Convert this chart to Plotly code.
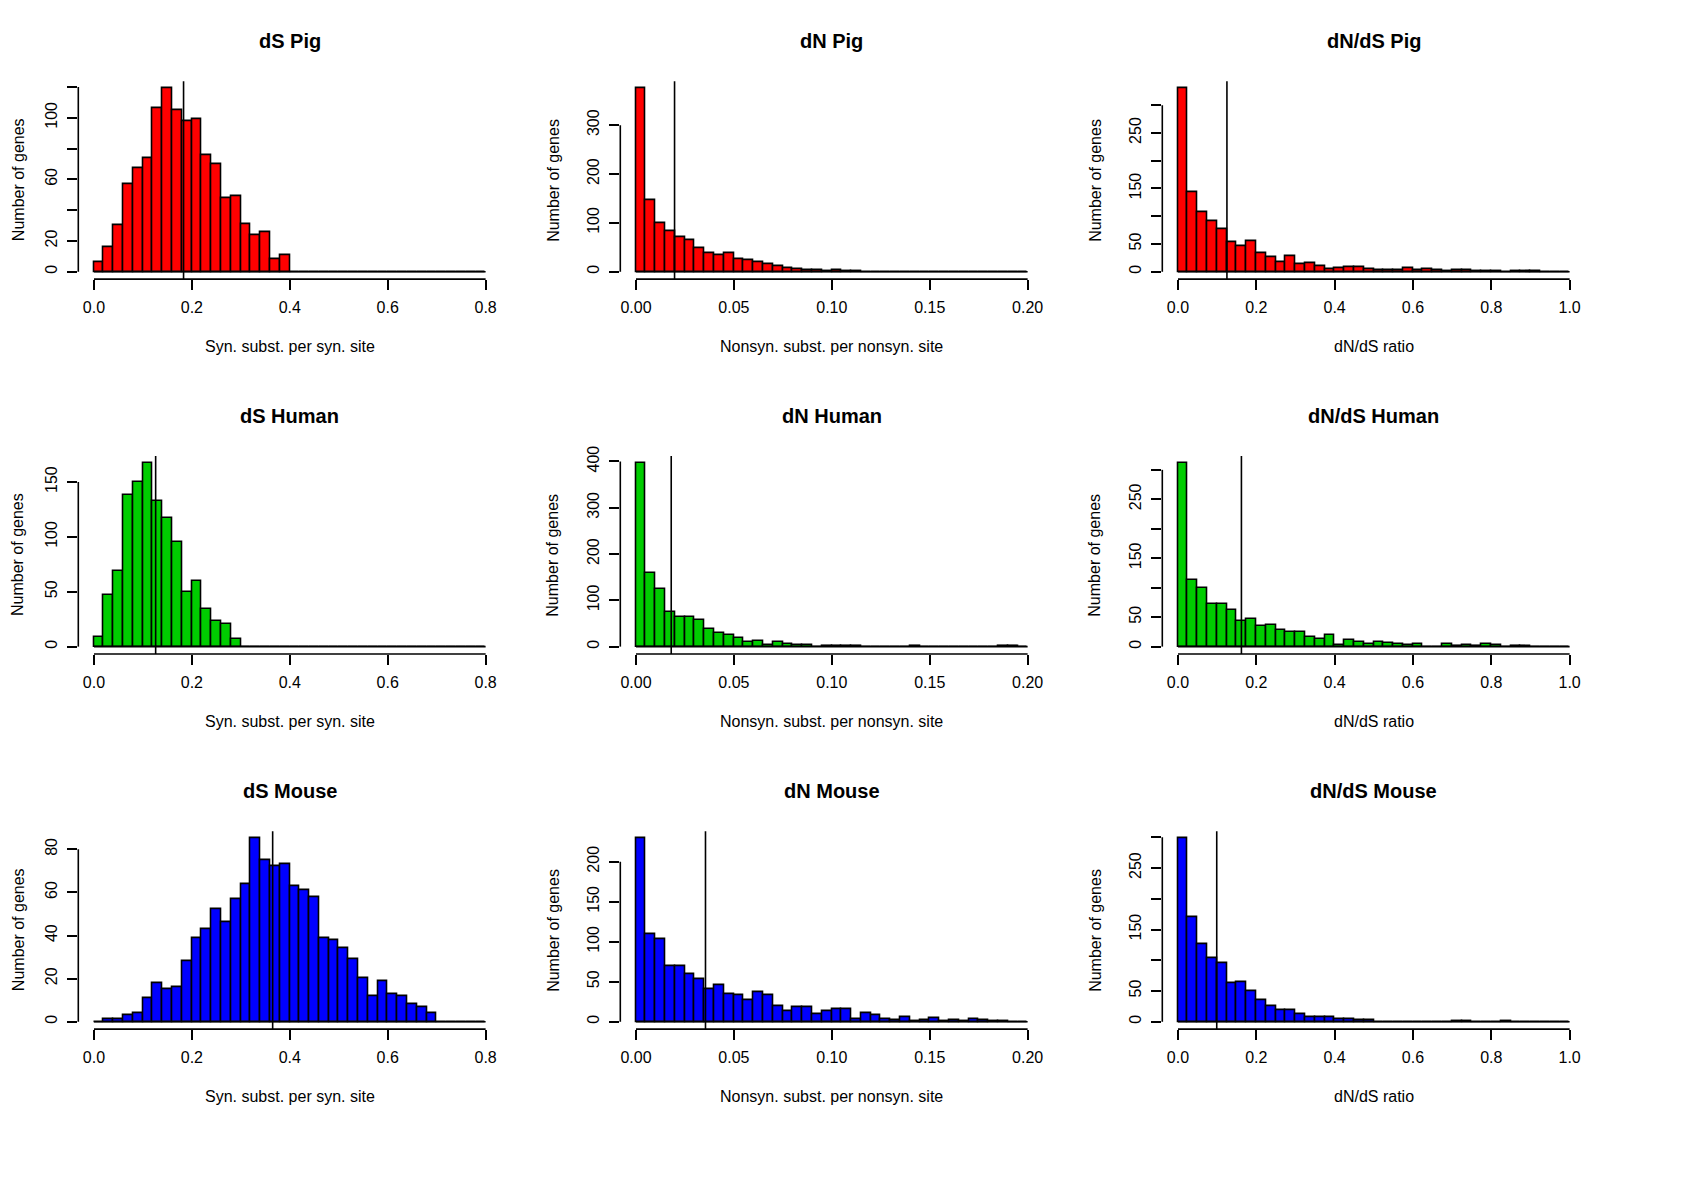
import plotly.graph_objects as go

FONT = "Liberation Sans, Arial, Helvetica, sans-serif"
W, H = 1696, 1200

# ---------------- data ----------------
titles = ["dS Pig", "dN Pig", "dN/dS Pig",
          "dS Human", "dN Human", "dN/dS Human",
          "dS Mouse", "dN Mouse", "dN/dS Mouse"]
x_labels = ["Syn. subst. per syn. site", "Nonsyn. subst. per nonsyn. site", "dN/dS ratio"]
y_label = "Number of genes"

break_start = [0.0, 0.0, 0.0]
break_end = [0.8, 0.2, 1.0]

dS_pig = [6, 16, 30, 57, 67, 74, 106, 119, 105, 98, 99, 76, 70, 48, 49, 31, 24, 26, 8, 11,
          0, 0, 0, 0, 0, 0, 0, 0, 0, 0, 0, 0, 0, 0, 0, 0, 0, 0, 0, 0]
dN_pig = [375, 147, 100, 83, 70, 64, 48, 39, 33, 39, 26, 23, 19, 15, 12, 8, 5, 3, 4, 1,
          4, 2, 2, 0, 0, 0, 0, 0, 0, 0, 0, 0, 0, 0, 0, 0, 0, 0, 0, 0]
dNdS_pig = [330, 143, 107, 92, 76, 54, 46, 56, 33, 27, 17, 28, 13, 16, 11, 5, 7, 9, 8, 5,
            2, 3, 2, 7, 2, 4, 3, 1, 2, 3, 1, 1, 1, 0, 1, 1, 1, 0, 0, 0]
dS_human = [9, 47, 69, 138, 150, 167, 133, 117, 95, 50, 60, 34, 23, 21, 7, 0, 0, 0, 0, 0,
            0, 0, 0, 0, 0, 0, 0, 0, 0, 0, 0, 0, 0, 0, 0, 0, 0, 0, 0, 0]
dN_human = [396, 160, 124, 74, 65, 65, 58, 39, 29, 26, 19, 9, 12, 4, 11, 6, 4, 3, 0, 1,
            2, 1, 1, 0, 0, 0, 0, 0, 1, 0, 0, 0, 0, 0, 0, 0, 0, 1, 1, 0]
dNdS_human = [311, 113, 100, 73, 72, 62, 44, 47, 35, 36, 29, 25, 25, 17, 13, 19, 3, 12, 8, 4,
              8, 6, 4, 3, 4, 0, 0, 5, 1, 2, 1, 4, 3, 0, 1, 1, 0, 0, 0, 0]
dS_mouse = [0, 1, 1, 3, 4, 11, 18, 15, 16, 28, 39, 43, 52, 46, 57, 64, 85, 75, 72, 73,
            63, 61, 58, 39, 38, 34, 29, 20, 12, 19, 13, 12, 8, 7, 4, 0, 0, 0, 0, 0]
dN_mouse = [229, 109, 103, 70, 69, 60, 53, 41, 46, 35, 33, 27, 37, 33, 20, 13, 18, 18, 9, 13,
            16, 16, 3, 11, 8, 3, 2, 6, 1, 2, 5, 1, 2, 1, 3, 2, 1, 1, 0, 0]
dNdS_mouse = [298, 170, 127, 103, 95, 62, 64, 50, 35, 26, 19, 19, 12, 7, 7, 7, 4, 4, 2, 2,
              0, 0, 0, 0, 0, 0, 0, 0, 1, 1, 0, 0, 0, 1, 0, 0, 0, 0, 0, 0]

panel_counts = [dS_pig, dN_pig, dNdS_pig,
                dS_human, dN_human, dNdS_human,
                dS_mouse, dN_mouse, dNdS_mouse]

# vertical reference line (mean) per panel
vline_values = [0.183, 0.0197, 0.125,
                0.126, 0.018, 0.162,
                0.365, 0.0355, 0.099]

row_colors = ["#FF0000", "#00CD00", "#0000FF"]

x_tick_vals = [[0.0, 0.2, 0.4, 0.6, 0.8],
               [0.0, 0.05, 0.10, 0.15, 0.20],
               [0.0, 0.2, 0.4, 0.6, 0.8, 1.0]]
x_tick_text = [["0.0", "0.2", "0.4", "0.6", "0.8"],
               ["0.00", "0.05", "0.10", "0.15", "0.20"],
               ["0.0", "0.2", "0.4", "0.6", "0.8", "1.0"]]

y_tick_vals = [[0, 20, 40, 60, 80, 100, 120], [0, 100, 200, 300], [0, 50, 100, 150, 200, 250, 300],
               [0, 50, 100, 150], [0, 100, 200, 300, 400], [0, 50, 100, 150, 200, 250, 300],
               [0, 20, 40, 60, 80], [0, 50, 100, 150, 200], [0, 50, 100, 150, 200, 250, 300]]
y_tick_text = [["0", "20", "", "60", "", "100", ""], ["0", "100", "200", "300"],
               ["0", "50", "", "150", "", "250", ""],
               ["0", "50", "100", "150"], ["0", "100", "200", "300", "400"],
               ["0", "50", "", "150", "", "250", ""],
               ["0", "20", "40", "60", "80"], ["0", "50", "100", "150", "200"],
               ["0", "50", "", "150", "", "250", ""]]

# ---------------- layout geometry (pixels) ----------------
col_left = [70.3, 612.3, 1154.3]
plot_w = 423.0
row_top = [63.7, 441.7, 820.0]
plot_h = 199.6
YLAB_OFFSET = 67.6
YLAB_MIN_X = 10.0   # keep rotated y label inside the canvas

fig = go.Figure()
layout = dict(width=W, height=H, margin=dict(l=0, r=0, t=0, b=0),
              paper_bgcolor="white", plot_bgcolor="white", showlegend=False,
              font=dict(family=FONT, size=16, color="black"), bargap=0)
shapes = []
annotations = []

for i in range(9):
    r, c = divmod(i, 3)
    n = i + 1
    xname = "x" if n == 1 else f"x{n}"
    yname = "y" if n == 1 else f"y{n}"
    counts = panel_counts[i]
    x0, x1 = break_start[c], break_end[c]
    bw = (x1 - x0) / len(counts)
    centers = [x0 + (k + 0.5) * bw for k in range(len(counts))]
    ymax = max(counts)
    xspan = x1 - x0

    # baseline (zero-count bins drawn as flat line, like R)
    fig.add_trace(go.Scatter(x=[x0, x1], y=[0, 0], mode="lines",
                             line=dict(color="black", width=1.6),
                             xaxis=xname, yaxis=yname, hoverinfo="skip"))
    fig.add_trace(go.Bar(x=centers, y=counts, width=bw,
                         marker=dict(color=row_colors[r], line=dict(color="black", width=1.6)),
                         xaxis=xname, yaxis=yname, hoverinfo="skip"))

    xd0 = col_left[c] / W
    xd1 = (col_left[c] + plot_w) / W
    yd1 = 1 - row_top[r] / H
    yd0 = 1 - (row_top[r] + plot_h) / H

    layout["xaxis" if n == 1 else f"xaxis{n}"] = dict(
        domain=[xd0, xd1], anchor=yname,
        range=[x0 - 0.04 * xspan, x1 + 0.04 * xspan],
        tickmode="array", tickvals=x_tick_vals[c], ticktext=x_tick_text[c],
        ticks="outside", ticklen=10, tickwidth=1.6, tickcolor="black",
        showline=False, showgrid=False, zeroline=False,
        tickfont=dict(family=FONT, size=16, color="black"), ticklabelstandoff=4,
    )
    layout["yaxis" if n == 1 else f"yaxis{n}"] = dict(
        domain=[yd0, yd1], anchor=xname,
        range=[-0.04 * ymax, 1.04 * ymax],
        tickmode="array", tickvals=y_tick_vals[i], ticktext=y_tick_text[i],
        ticks="outside", ticklen=10, tickwidth=1.6, tickcolor="black",
        showline=False, showgrid=False, zeroline=False, tickangle=-90,
        tickfont=dict(family=FONT, size=16, color="black"), ticklabelstandoff=4,
    )

    # R-style axis lines spanning first to last tick
    xt = x_tick_vals[c]
    yt = y_tick_vals[i]
    shapes.append(dict(type="line", xref=xname, yref=f"{yname} domain",
                       x0=xt[0], x1=xt[-1], y0=0, y1=0,
                       line=dict(color="black", width=1.6)))
    shapes.append(dict(type="line", xref=f"{xname} domain", yref=yname,
                       x0=0, x1=0, y0=yt[0], y1=yt[-1],
                       line=dict(color="black", width=1.6)))
    # vertical mean line across the plot region
    shapes.append(dict(type="line", xref=xname, yref=f"{yname} domain",
                       x0=vline_values[i], x1=vline_values[i], y0=0, y1=1,
                       line=dict(color="black", width=1.6)))

    # title
    annotations.append(dict(text=f"<b>{titles[i]}</b>", xref=f"{xname} domain", yref=f"{yname} domain",
                            x=0.5, y=1, xanchor="center", yanchor="middle", yshift=40.5,
                            showarrow=False, font=dict(family=FONT, size=20, color="black")))
    # x label
    annotations.append(dict(text=x_labels[c], xref=f"{xname} domain", yref=f"{yname} domain",
                            x=0.5, y=0, xanchor="center", yanchor="middle", yshift=-67.7,
                            showarrow=False, font=dict(family=FONT, size=16, color="black")))
    # y label
    ylab_shift = -min(YLAB_OFFSET, col_left[c] - YLAB_MIN_X)
    annotations.append(dict(text=y_label, xref=f"{xname} domain", yref=f"{yname} domain",
                            x=0, y=0.5, xanchor="center", yanchor="middle", xshift=ylab_shift,
                            textangle=-90, showarrow=False,
                            font=dict(family=FONT, size=16, color="black")))

layout["shapes"] = shapes
layout["annotations"] = annotations
fig.update_layout(**layout)
fig.write_html("out.html")
